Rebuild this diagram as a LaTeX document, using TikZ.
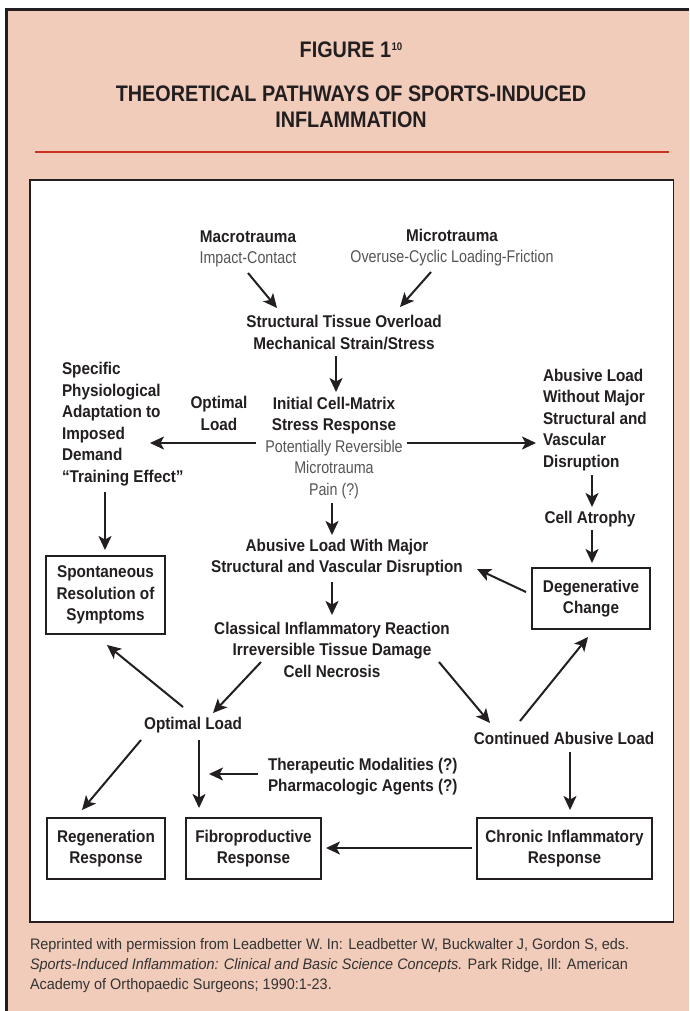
\documentclass[tikz,border=0pt]{standalone}
\usepackage{fontspec}
\setmainfont{Liberation Sans}[UprightFeatures={FakeStretch=0.84},BoldFeatures={FakeStretch=0.9},ItalicFeatures={FakeStretch=0.84}]
\newfontfamily\titlefont{Liberation Sans}[FakeStretch=0.88]
\newfontfamily\capfont{Liberation Sans}[FakeStretch=0.95]
\usetikzlibrary{arrows.meta}
\definecolor{bgpink}{HTML}{F1CCBB}
\definecolor{redrule}{HTML}{C8321E}
\definecolor{ink}{HTML}{231F20}
\definecolor{txtgrey}{HTML}{555555}
\definecolor{capgrey}{HTML}{333333}
\newcommand\greytxt[1]{{\mdseries\color{txtgrey}#1}}
\begin{document}
\begin{tikzpicture}[x=1pt,y=-1pt,
  every node/.style={inner sep=0pt,outer sep=0pt,text=ink},
  ttl/.style={font=\titlefont\bfseries\fontsize{22.5}{26}\selectfont,align=center},
  lbl/.style={font=\bfseries\fontsize{17}{21.5}\selectfont,align=center},
  lbll/.style={font=\bfseries\fontsize{17}{21.5}\selectfont,align=left,anchor=west},
  bx/.style={draw=ink,line width=1.6pt,font=\bfseries\fontsize{17}{21.5}\selectfont,align=center},
  arr/.style={draw=ink,line width=2pt,-{Stealth[length=14pt,width=13pt,inset=3.5pt]}},
]
\useasboundingbox (0,0) rectangle (689,1011);
\fill[white] (0,0) rectangle (689,1011);
\fill[bgpink] (6.5,9.5) rectangle (689,1011);
\draw[ink,line width=3pt,line join=miter] (6.5,1011) -- (6.5,9.5) -- (689,9.5);
% title
\node[ttl] (fig) at (351,50)
  {FIGURE 1\kern0.5pt\raisebox{7pt}{\fontsize{11}{11}\selectfont 10}};
\node[ttl] (title) at (351,107)
  {THEORETICAL PATHWAYS OF SPORTS-INDUCED\\INFLAMMATION};
\draw[redrule,line width=2.5pt] (35,152) -- (669,152);
% white panel
\draw[ink,line width=1.2pt,fill=white] (30,180) rectangle (673.5,922);
% nodes
\node[lbl] (macro) at (248,249) {Macrotrauma\\\greytxt{Impact-Contact}};
\node[lbl] (micro) at (452,247.5) {Microtrauma\\\greytxt{Overuse-Cyclic Loading-Friction}};
\node[lbl] (sto) at (344,332.5) {Structural Tissue Overload\\Mechanical Strain/Stress};
\node[lbl] (optl) at (219,413.5) {Optimal\\Load};
\node[lbl] (icm) at (334,448) {Initial Cell-Matrix\\Stress Response\\\greytxt{Potentially Reversible}\\\greytxt{Microtrauma}\\\greytxt{Pain (?)}};
\node[lbll] (spa) at (62,424) {Specific\\Physiological\\Adaptation to\\Imposed\\Demand\\“Training Effect”};
\node[lbll] (alw) at (543,420) {Abusive Load\\Without Major\\Structural and\\Vascular\\Disruption};
\node[lbl] (atrophy) at (590,519) {Cell Atrophy};
\node[bx,minimum width=118pt,minimum height=61pt] (degen) at (591,598.5) {Degenerative\\Change};
\node[lbl] (almd) at (337,557.5) {Abusive Load With Major\\Structural and Vascular Disruption};
\node[lbl] (cir) at (332,649.7) {Classical Inflammatory Reaction\\Irreversible Tissue Damage\\Cell Necrosis};
\node[bx,minimum width=119pt,minimum height=78pt] (spont) at (105.5,595) {Spontaneous\\Resolution of\\Symptoms};
\node[lbl] (optload) at (193,725) {Optimal Load};
\node[lbl] (cal) at (564,738) {Continued Abusive Load};
\node[lbll] (ther) at (268,776.5) {Therapeutic Modalities (?)\\Pharmacologic Agents (?)};
\node[bx,minimum width=118pt,minimum height=61pt] (regen) at (106,848.5) {Regeneration\\Response};
\node[bx,minimum width=135pt,minimum height=61pt] (fibro) at (253.5,848.5) {Fibroproductive\\Response};
\node[bx,minimum width=175pt,minimum height=61pt] (chronic) at (564.5,848.5) {Chronic Inflammatory\\Response};
% arrows
\draw[arr] ([shift={(0,24)}]macro.center) -- ([shift={(-67,-24.5)}]sto.center);
\draw[arr] ([shift={(-21,24.5)}]micro.center) -- ([shift={(56,-25.5)}]sto.center);
\draw[arr] ([shift={(-8,23.5)}]sto.center) -- ([shift={(2,-56)}]icm.center);
\draw[arr] ([shift={(-78,-5)}]icm.center) -- ([shift={(88,19)}]spa.west);
\draw[arr] ([shift={(73,-5)}]icm.center) -- ([shift={(-7,23)}]alw.west);
\draw[arr] ([shift={(-2,55)}]icm.center) -- ([shift={(-5,-22.5)}]almd.center);
\draw[arr] ([shift={(-5,24.5)}]almd.center) -- ([shift={(0,-34.7)}]cir.center);
\draw[arr] ([shift={(43,68)}]spa.west) -- ([shift={(-0.5,-45)}]spont.center);
\draw[arr] ([shift={(49,55)}]alw.west) -- ([shift={(2,-12)}]atrophy.center);
\draw[arr] ([shift={(2,11)}]atrophy.center) -- ([shift={(1,-35.5)}]degen.center);
\draw[arr] ([shift={(-65,-6.5)}]degen.center) -- ([shift={(140,11.5)}]almd.center);
\draw[arr] ([shift={(-71,12.3)}]cir.center) -- ([shift={(20,-12)}]optload.center);
\draw[arr] ([shift={(107,12.3)}]cir.center) -- ([shift={(-74,-15)}]cal.center);
\draw[arr] ([shift={(-10,-18)}]optload.center) -- ([shift={(1.5,50)}]spont.center);
\draw[arr] ([shift={(-44,-17)}]cal.center) -- ([shift={(-3,38.5)}]degen.center);
\draw[arr] ([shift={(-52,15)}]optload.center) -- ([shift={(-24,-38.5)}]regen.center);
\draw[arr] ([shift={(6,15)}]optload.center) -- ([shift={(-54.5,-40.5)}]fibro.center);
\draw[arr] ([shift={(-10,-2.5)}]ther.west) -- ([shift={(-59,-2.5)}]ther.west);
\draw[arr] ([shift={(6,14)}]cal.center) -- ([shift={(5.5,-38.5)}]chronic.center);
\draw[arr] ([shift={(-92.5,-0.5)}]chronic.center) -- ([shift={(72.5,-0.5)}]fibro.center);
% caption
\node[anchor=west,align=left,font=\capfont\fontsize{15.2}{20}\selectfont,text=capgrey] (cap) at (30,966)
  {Reprinted with permission from Leadbetter W. In: Leadbetter W, Buckwalter J, Gordon S, eds.\\
   \textit{Sports-Induced Inflammation: Clinical and Basic Science Concepts.} Park Ridge, Ill: American\\
   Academy of Orthopaedic Surgeons; 1990:1-23.};
\end{tikzpicture}
\end{document}
